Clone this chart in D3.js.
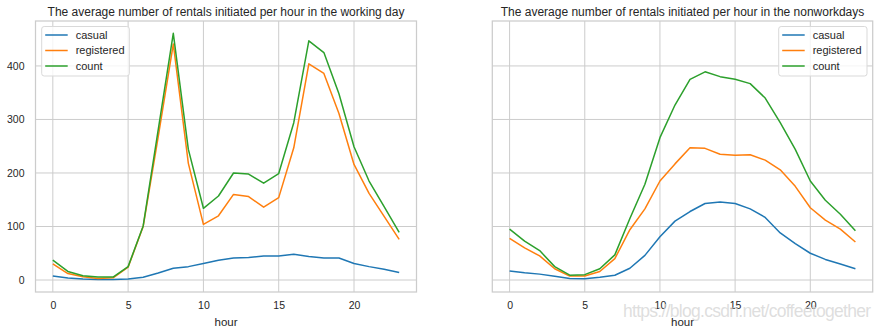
<!DOCTYPE html>
<html><head><meta charset="utf-8">
<script src="https://cdn.jsdelivr.net/npm/d3@7"></script>
<style>body{margin:0;background:#fff;} svg{display:block;} text{font-family:"Liberation Sans",Arial,sans-serif;fill:#262626;}</style>
</head><body><svg id="c" width="879" height="333"></svg>
<script>
const hours = d3.range(0, 24);
const xTicks = [0, 5, 10, 15, 20];
const yTicks = [0, 100, 200, 300, 400];
const seriesNames = ["casual", "registered", "count"];
const seriesColors = ["#1f77b4", "#ff7f0e", "#2ca02c"];
const titles = ["The average number of rentals initiated per hour in the working day",
                "The average number of rentals initiated per hour in the nonworkdays"];

const workCasual = [7.4, 3.7, 1.9, 0.8, 0.8, 1.9, 5, 13, 22, 25, 31, 37, 41, 42, 45, 45, 48, 44, 41, 41, 31, 25, 20, 14];
const workRegistered = [30, 12, 6, 3, 4, 24, 100, 268, 441, 218, 104, 120, 160, 156, 136, 154, 247, 404, 386, 311, 216, 162, 119, 76];
const workCount = [37, 16, 8, 5.6, 5.6, 25, 101, 281, 461, 244, 134, 157, 200, 198, 181, 199, 294, 447, 425, 348, 249, 185, 137, 89];

const offCasual = [17, 13.6, 11, 7, 3, 2.5, 5, 9, 22, 46, 81, 110, 128, 143, 146, 143, 133, 117, 88, 68, 50, 38.5, 30, 21];
const offRegistered = [78, 60, 45, 21, 7.4, 7.4, 16, 40, 94, 133, 185, 217, 247, 246, 235, 233, 234, 224, 206, 175, 135, 112, 95, 71];
const offCount = [95, 72.6, 55, 25, 9, 10, 21, 47, 115, 179, 266, 327, 375, 389, 380, 375, 367, 340, 294, 244, 185, 149, 123, 92];

const panels = [
  {title: titles[0], data: [workCasual, workRegistered, workCount], left: 35.5, right: 416.5, yLabels: true, legend: "left"},
  {title: titles[1], data: [offCasual, offRegistered, offCount], left: 492.3, right: 872.7, yLabels: false, legend: "right"}
];

const svg = d3.select("#c");
const plotTop = 21, plotBottom = 292;
const y = d3.scaleLinear().domain([-22.4, 484]).range([plotBottom, plotTop]);
const grid = "#cccccc";
const fam = '"Liberation Sans",Arial,sans-serif';

panels.forEach(p => {
  const x = d3.scaleLinear().domain([-1.15, 24.15]).range([p.left, p.right]);
  const g = svg.append("g");
  g.selectAll(".gx").data(xTicks).enter().append("line")
    .attr("x1", d => x(d)).attr("x2", d => x(d)).attr("y1", plotTop).attr("y2", plotBottom)
    .attr("stroke", grid).attr("stroke-width", 1);
  g.selectAll(".gy").data(yTicks).enter().append("line")
    .attr("y1", d => y(d)).attr("y2", d => y(d)).attr("x1", p.left).attr("x2", p.right)
    .attr("stroke", grid).attr("stroke-width", 1);
  g.append("rect").attr("x", p.left).attr("y", plotTop).attr("width", p.right - p.left).attr("height", plotBottom - plotTop)
    .attr("fill", "none").attr("stroke", grid).attr("stroke-width", 1.25);
  const xa = g.append("g").attr("transform", `translate(0,${plotBottom})`)
    .call(d3.axisBottom(x).tickValues(xTicks).tickSize(0).tickPadding(10).tickFormat(d3.format("d")));
  xa.select(".domain").remove();
  xa.selectAll("text").attr("font-size", 10.5).style("font-family", fam).attr("fill", "#262626");
  if (p.yLabels) {
    const ya = g.append("g").attr("transform", `translate(${p.left},0)`)
      .call(d3.axisLeft(y).tickValues(yTicks).tickSize(0).tickPadding(11).tickFormat(d3.format("d")));
    ya.select(".domain").remove();
    ya.selectAll("text").attr("font-size", 10.5).style("font-family", fam).attr("fill", "#262626");
  }
  g.append("text").attr("x", (p.left + p.right) / 2).attr("y", 326).attr("text-anchor", "middle")
    .attr("font-size", 11.5).text("hour");
  g.append("text").attr("x", (p.left + p.right) / 2).attr("y", 15.5).attr("text-anchor", "middle")
    .attr("font-size", 12).text(p.title);
  const line = d3.line().x((d, i) => x(hours[i])).y(d => y(d));
  p.data.forEach((arr, k) => {
    g.append("path").datum(arr).attr("d", line).attr("fill", "none")
      .attr("stroke", seriesColors[k]).attr("stroke-width", 1.5).attr("stroke-linejoin", "round");
  });
  const lx = p.legend === "left" ? 41.7 : 778.7;
  const lw = p.legend === "left" ? 87.6 : 88.3;
  const lg = g.append("g");
  lg.append("rect").attr("x", lx).attr("y", 26.5).attr("width", lw).attr("height", 49.5).attr("rx", 2.5)
    .attr("fill", "white").attr("fill-opacity", 0.8).attr("stroke", "#d9d9d9").attr("stroke-width", 1);
  seriesNames.forEach((n, k) => {
    const yy = 35 + k * 15.5;
    lg.append("line").attr("x1", lx + 3.5).attr("x2", lx + 26).attr("y1", yy).attr("y2", yy)
      .attr("stroke", seriesColors[k]).attr("stroke-width", 1.5);
    lg.append("text").attr("x", lx + 34).attr("y", yy).attr("dy", "0.35em").attr("font-size", 11).text(n);
  });
});

svg.append("text").attr("x", 623).attr("y", 317).attr("font-size", 17.5)
  .attr("textLength", 248).style("fill", "#d6d6d6").attr("fill-opacity", 0.8)
  .text("https://blog.csdn.net/coffeetogether");
</script></body></html>
